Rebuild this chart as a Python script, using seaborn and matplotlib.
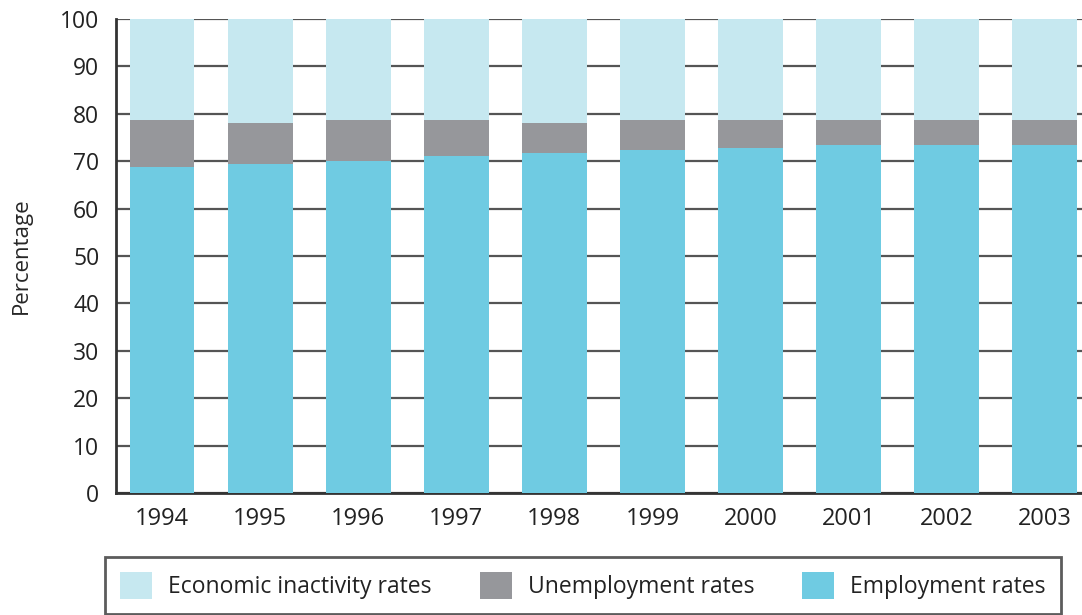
import pandas as pd
import seaborn as sns
import matplotlib.pyplot as plt
from matplotlib.patches import Patch

# values (percent)
years = ['1994', '1995', '1996', '1997', '1998', '1999', '2000', '2001', '2002', '2003']
employment = [68.8, 69.4, 70.1, 71.1, 71.7, 72.4, 72.8, 73.5, 73.5, 73.5]
unemployment = [9.8, 8.6, 8.5, 7.5, 6.3, 6.2, 5.8, 5.1, 5.1, 5.1]
inactivity = [21.4, 22.0, 21.4, 21.4, 22.0, 21.4, 21.4, 21.4, 21.4, 21.4]

labels = ['Economic inactivity rates', 'Unemployment rates', 'Employment rates']
colors = ['#C6E8F0', '#96979B', '#6FCBE2']

df = pd.DataFrame({'year': years, 'emp': employment, 'unemp': unemployment, 'inact': inactivity})
df['top_unemp'] = df['emp'] + df['unemp']
df['top_all'] = df['top_unemp'] + df['inact']

sns.set_style('white')
plt.rcParams['font.family'] = ['Open Sans', 'DejaVu Sans']
plt.rcParams['text.color'] = '#222222'

fig = plt.figure(figsize=(10.82, 6.15), dpi=100)
ax = fig.add_axes([0.1072, 0.1984, 0.8928, 0.7707])

# stacked bars drawn as layered cumulative heights
for col, c in zip(['top_all', 'top_unemp', 'emp'], colors):
    sns.barplot(data=df, x='year', y=col, color=c, saturation=1, width=0.66,
                ax=ax, zorder=3, linewidth=0)

ax.set_ylim(0, 100)
ax.set_xlim(-0.47, 9.38)
ax.set_yticks(range(0, 101, 10))
ax.yaxis.grid(True, color='#555555', linewidth=1.6, zorder=0)
ax.set_axisbelow(True)
ax.set_xlabel('')
ax.set_ylabel('Percentage', fontsize=16, labelpad=20)

for s in ['top', 'right']:
    ax.spines[s].set_visible(False)
for s in ['left', 'bottom']:
    ax.spines[s].set_color('#333333')
    ax.spines[s].set_linewidth(2)

ax.tick_params(axis='y', length=0, pad=12, labelsize=16.5, labelcolor='#222222')
ax.tick_params(axis='x', which='major', length=0, pad=10, labelsize=17, labelcolor='#222222')
ax.set_xticks([i + 0.5 for i in range(9)], minor=True)
ax.tick_params(axis='x', which='minor', length=9, width=2, color='#333333')

handles = [Patch(facecolor=c, edgecolor='none') for c in colors]
leg = fig.legend(handles, labels, loc='upper left', bbox_to_anchor=(0.097, 0.094),
                 ncol=3, fontsize=16.5, frameon=True, fancybox=False,
                 handlelength=1.4, handleheight=1.4, handletextpad=0.7,
                 columnspacing=2.1, borderpad=0.65, borderaxespad=0)
leg.get_frame().set_edgecolor('#333333')
leg.get_frame().set_linewidth(2)

fig.savefig('out.png', dpi=100)
